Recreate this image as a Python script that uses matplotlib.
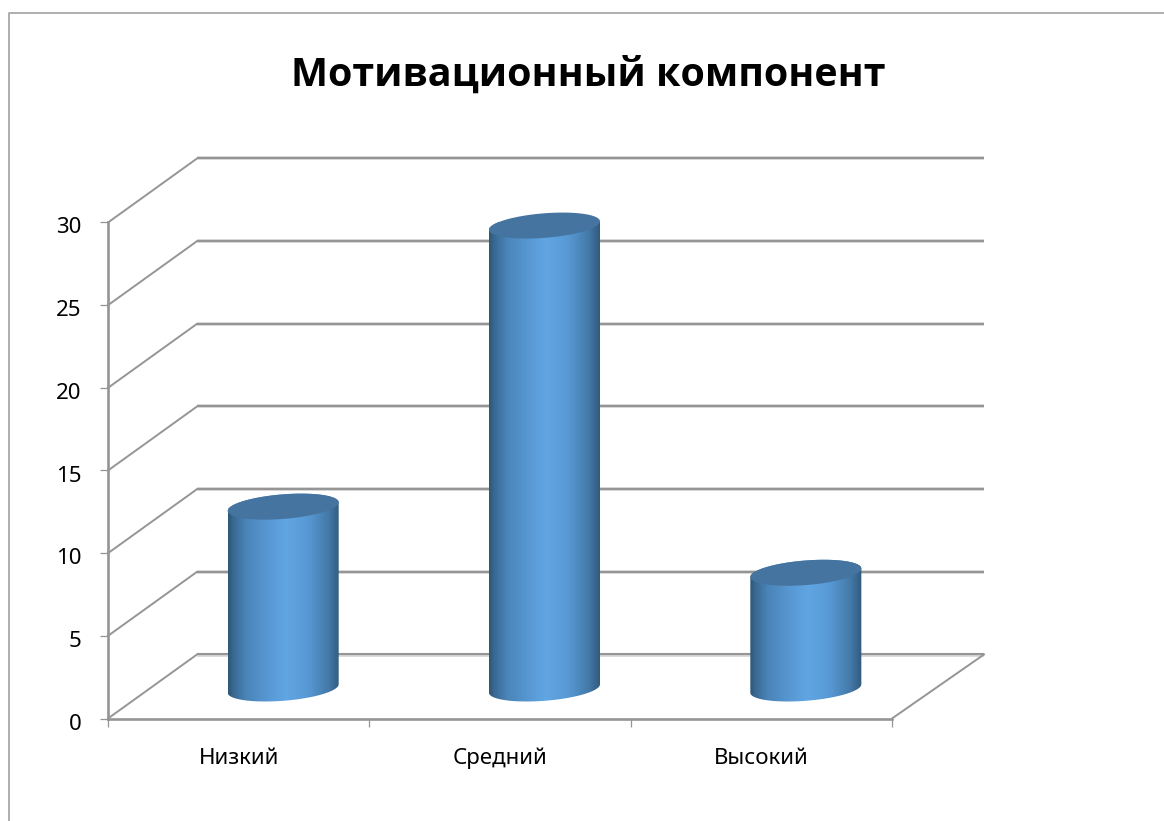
#!/usr/bin/env python3
# 3D-look cylinder chart drawn on a plain 2D axes, front plane = data axes.

import numpy as np
import matplotlib
matplotlib.use("Agg")
import matplotlib.pyplot as plt
from matplotlib.lines import Line2D
from matplotlib.patches import Polygon
from matplotlib.colors import LinearSegmentedColormap
from matplotlib.transforms import ScaledTranslation

categories = ["Низкий", "Средний", "Высокий"]
values = [11, 28, 7]
y_ticks = [0, 5, 10, 15, 20, 25, 30]

W, H = 1164, 821
plt.rcParams["font.family"] = ["Noto Sans", "DejaVu Sans"]

LINE = "#959595"
fig = plt.figure(figsize=(W / 100, H / 100), dpi=100, facecolor="white")
ax = fig.add_axes([108 / W, (H - 718.5) / H, 784 / W, 496 / H])
ax.set_xlim(0, 3)
ax.set_ylim(0, 30)
ax.patch.set_visible(False)

# depth of the box, in data units
px_x = 3 / 784
px_y = 30 / 496
depth_x = 89 * px_x
depth_right = 92 * px_x
depth_y = 64 * px_y

# outer chart border, runs off the picture at right and bottom
fig.add_artist(Line2D([8.5 / W, 8.5 / W, 1], [0, 1 - 13.5 / H, 1 - 13.5 / H],
                      color="#a8a8a8", lw=1.3))

# back wall gridlines + side wall diagonals
for v in y_ticks:
    ax.plot([0, depth_x], [v, v + depth_y], color=LINE, lw=1.4, clip_on=False, zorder=1)
    ax.plot([depth_x, 3 + depth_right], [v + depth_y, v + depth_y], color="#d4d4d4",
            lw=2.6, clip_on=False, zorder=1, solid_capstyle="butt")
    ax.plot([depth_x, 3 + depth_right], [v + depth_y + 0.02, v + depth_y + 0.02], color=LINE,
            lw=1.5, clip_on=False, zorder=1.1, solid_capstyle="butt")
# floor right edge
ax.plot([3, 3 + depth_right], [0, depth_y], color=LINE, lw=1.4, clip_on=False, zorder=1)

for side in ["top", "right"]:
    ax.spines[side].set_visible(False)
for side in ["left", "bottom"]:
    ax.spines[side].set_color(LINE)
    ax.spines[side].set_linewidth(1.9)

ax.set_yticks(y_ticks)
ax.set_xticks([0, 1, 2, 3])
ax.set_xticklabels([])
ax.set_xticks([0.5, 1.5, 2.5], minor=True)
ax.set_xticklabels(categories, minor=True)
ax.tick_params(axis="x", which="major", length=6, width=0.9, color=LINE)
ax.tick_params(axis="x", which="minor", length=0, pad=32.4, labelsize=16, labelcolor="black")
ax.tick_params(axis="y", length=6, width=0.9, color=LINE, pad=13, labelsize=16,
               labelcolor="black")
for lab in ax.get_xticklabels(minor=True):
    lab.set_verticalalignment("baseline")
# the numbers sit a little under their ticks
shift = ScaledTranslation(0, -3 / 100, fig.dpi_scale_trans)
for lab in ax.get_yticklabels():
    lab.set_transform(lab.get_transform() + shift)

ax.set_title("Мотивационный компонент", fontsize=28.4, family=["Open Sans", "Liberation Sans"],
             fontweight="bold", color="black", x=480 / 784, y=(718 - 75) / 496, va="center", pad=0)

# cylinders
side_cmap = LinearSegmentedColormap.from_list("side", [
    (0.0, "#2f5676"), (0.05, "#3a6a94"), (0.16, "#4a84b9"), (0.40, "#5a9cd8"),
    (0.52, "#60a6e3"), (0.72, "#5798d3"), (0.90, "#4479a8"), (1.0, "#315a7e")])
gradient = np.linspace(0, 1, 256).reshape(1, -1)

rad_x = 52.5 * px_x      # floor circle, along the x axis
skew_x = 18 * px_x       # floor circle, along the depth direction
skew_y = 13 * px_y
base_y = 30 * px_y       # bar centres sit half way into the box
half_w = np.hypot(rad_x, skew_x)
t0 = np.arctan2(skew_x, rad_x)


def ring(cx, cy, t):
    return np.column_stack([cx + rad_x * np.cos(t) + skew_x * np.sin(t),
                            cy + skew_y * np.sin(t)])


for i, v in enumerate(values):
    cx = i + 0.5 + depth_x / 2
    top = base_y + v
    front = np.linspace(t0, t0 - np.pi, 80)
    back = np.linspace(t0 - np.pi, t0 - 2 * np.pi, 80)
    outline = np.vstack([ring(cx, base_y, front), ring(cx, top, back)])
    body = Polygon(outline, closed=True, transform=ax.transData, facecolor="none",
                   edgecolor="none", zorder=3, clip_on=False)
    ax.add_patch(body)
    im = ax.imshow(gradient, cmap=side_cmap, aspect="auto", zorder=3, interpolation="bilinear",
                   extent=[cx - half_w, cx + half_w, base_y - 2, top + 2])
    im.set_clip_path(body)
    ax.add_patch(Polygon(ring(cx, top, np.linspace(0, 2 * np.pi, 160)), closed=True,
                         facecolor="#44749f", edgecolor="none", zorder=4, clip_on=False))

ax.set_xlim(0, 3)
ax.set_ylim(0, 30)

fig.savefig("out.png", dpi=100)
